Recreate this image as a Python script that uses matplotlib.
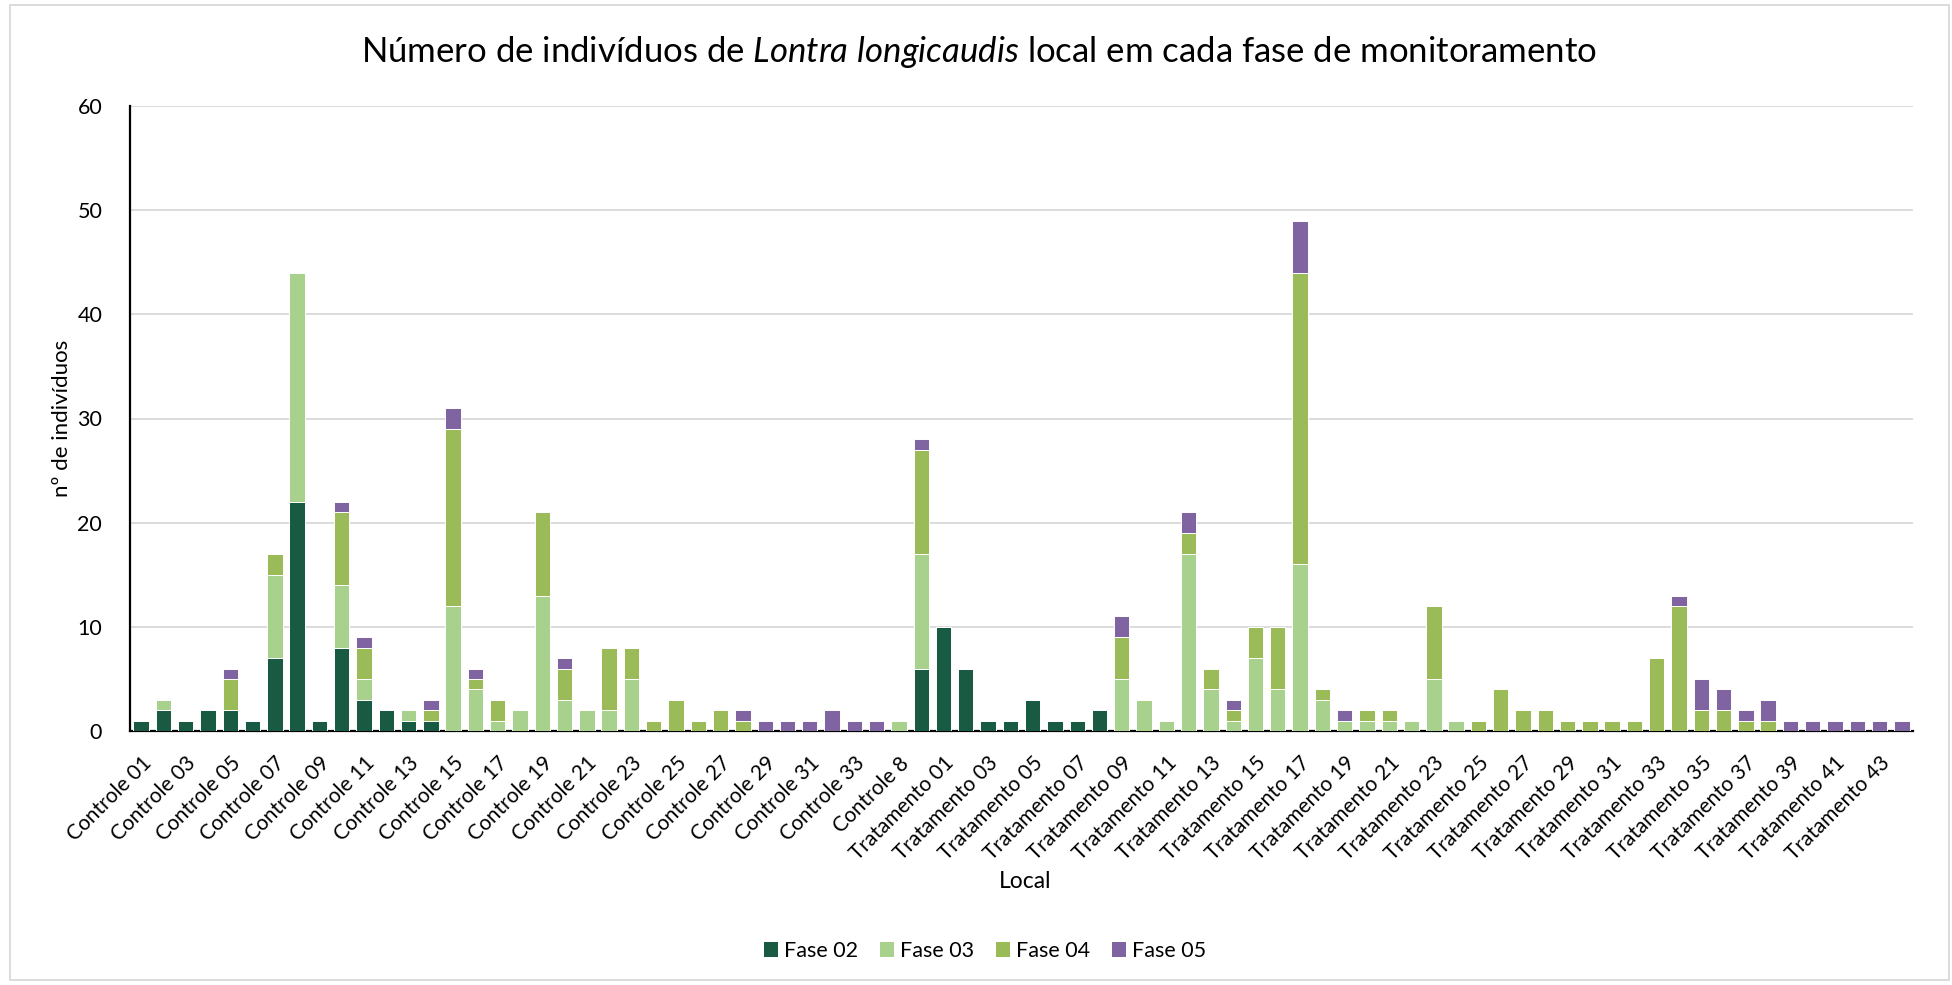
import matplotlib
matplotlib.use("Agg")
import matplotlib.pyplot as plt
from matplotlib.patches import Patch, Rectangle
import numpy as np

plt.rcParams['font.family'] = ['Lato', 'DejaVu Sans']
plt.rcParams['mathtext.fontset'] = 'custom'
plt.rcParams['mathtext.rm'] = 'Lato'
plt.rcParams['mathtext.it'] = 'Lato:italic'

# Sampling sites
controle = [f"Controle {i:02d}" for i in range(1, 35)] + ["Controle 8", "Controle 9"]
tratamento = [f"Tratamento {i:02d}" for i in range(1, 45)]
locais = controle + tratamento

# Individuals per phase at each site
fase02 = [1, 2, 1, 2, 2, 1, 7, 22, 1, 8, 3, 2, 1, 1, 0, 0, 0, 0, 0, 0,
          0, 0, 0, 0, 0, 0, 0, 0, 0, 0, 0, 0, 0, 0, 0, 6,
          10, 6, 1, 1, 3, 1, 1, 2, 0, 0, 0, 0, 0, 0, 0, 0, 0, 0, 0, 0,
          0, 0, 0, 0, 0, 0, 0, 0, 0, 0, 0, 0, 0, 0, 0, 0, 0, 0, 0, 0,
          0, 0, 0, 0]
fase03 = [0, 1, 0, 0, 0, 0, 8, 22, 0, 6, 2, 0, 1, 0, 12, 4, 1, 2, 13, 3,
          2, 2, 5, 0, 0, 0, 0, 0, 0, 0, 0, 0, 0, 0, 1, 11,
          0, 0, 0, 0, 0, 0, 0, 0, 5, 3, 1, 17, 4, 1, 7, 4, 16, 3, 1, 1,
          1, 1, 5, 1, 0, 0, 0, 0, 0, 0, 0, 0, 0, 0, 0, 0, 0, 0, 0, 0,
          0, 0, 0, 0]
fase04 = [0, 0, 0, 0, 3, 0, 2, 0, 0, 7, 3, 0, 0, 1, 17, 1, 2, 0, 8, 3,
          0, 6, 3, 1, 3, 1, 2, 1, 0, 0, 0, 0, 0, 0, 0, 10,
          0, 0, 0, 0, 0, 0, 0, 0, 4, 0, 0, 2, 2, 1, 3, 6, 28, 1, 0, 1,
          1, 0, 7, 0, 1, 4, 2, 2, 1, 1, 1, 1, 7, 12, 2, 2, 1, 1, 0, 0,
          0, 0, 0, 0]
fase05 = [0, 0, 0, 0, 1, 0, 0, 0, 0, 1, 1, 0, 0, 1, 2, 1, 0, 0, 0, 1,
          0, 0, 0, 0, 0, 0, 0, 1, 1, 1, 1, 2, 1, 1, 0, 1,
          0, 0, 0, 0, 0, 0, 0, 0, 2, 0, 0, 2, 0, 1, 0, 0, 5, 0, 1, 0,
          0, 0, 0, 0, 0, 0, 0, 0, 0, 0, 0, 0, 0, 1, 3, 2, 1, 2, 1, 1,
          1, 1, 1, 1]

series = [("Fase 02", fase02, "#185A42"),
          ("Fase 03", fase03, "#A9D18E"),
          ("Fase 04", fase04, "#9BBB59"),
          ("Fase 05", fase05, "#8064A2")]

W, H = 1952, 985
fig = plt.figure(figsize=(W / 100, H / 100), dpi=100)
ax = fig.add_axes([130 / W, 1 - 731 / H, (1913 - 130) / W, (731 - 106) / H])

x = np.arange(len(locais))
bottom = np.zeros(len(locais))
for nome, vals, cor in series:
    vals = np.array(vals, dtype=float)
    ax.bar(x, vals, width=0.69, bottom=bottom, color=cor, edgecolor="white",
           linewidth=0.7, label=nome, zorder=3)
    bottom += vals

ax.set_xlim(-0.5, len(locais) - 0.5)
ax.set_ylim(0, 60)
ax.set_yticks(range(0, 61, 10))
ax.yaxis.grid(True, color="#D9D9D9", linewidth=1.3, zorder=0)
ax.set_axisbelow(True)

ax.set_xticks(x[::2])
ax.set_xticklabels(locais[::2], rotation=45, ha="right", rotation_mode="anchor",
                   fontsize=15)
ax.tick_params(axis="x", length=0, pad=16)
ax.tick_params(axis="y", length=0, pad=20, labelsize=15.5)

for s in ("top", "right"):
    ax.spines[s].set_visible(False)
for s in ("left", "bottom"):
    ax.spines[s].set_color("black")
    ax.spines[s].set_linewidth(1.6)

fig.text(979 / W, 1 - 52 / H,
         r"Número de indivíduos de $\it{Lontra\ longicaudis}$ local em cada fase de monitoramento",
         ha="center", va="center", fontsize=25)
fig.text(62 / W, 1 - 418 / H, "nº de indivíduos", rotation=90,
         ha="center", va="center", fontsize=16)
fig.text(1025 / W, 1 - 882 / H, "Local", ha="center", va="center", fontsize=16.5)

handles = [Patch(facecolor=c, edgecolor="none", label=n) for n, _, c in series]
fig.legend(handles=handles, loc="center", bbox_to_anchor=(985 / W, 1 - 951 / H),
           ncol=4, frameon=False, fontsize=15.5, handlelength=0.65,
           handleheight=0.65, handletextpad=0.3, columnspacing=1.0)

fig.patches.append(Rectangle((10 / W, 5 / H), (1949 - 10) / W, (980 - 5) / H,
                             transform=fig.transFigure, fill=False,
                             edgecolor="#D9D9D9", linewidth=1.3))

fig.savefig("out.png", dpi=100, facecolor="white")
